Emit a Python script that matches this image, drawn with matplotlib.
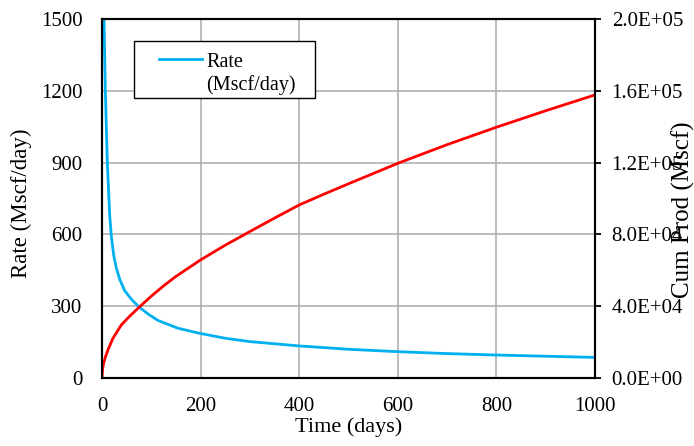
import numpy as np
import matplotlib
matplotlib.use('Agg')
import matplotlib.pyplot as plt
from matplotlib.patches import Rectangle
from matplotlib.ticker import FuncFormatter

plt.rcParams['font.family'] = ['Liberation Serif', 'DejaVu Serif']

# rate data
t_rate = [1, 2, 3, 4.5, 6.8, 10.8, 15.6, 19, 24, 29, 36, 46, 60, 76, 95, 114, 154, 195, 250, 300,
          400, 500, 600, 700, 800, 900, 1000]
rate = [3000, 2000, 1700, 1450, 1200, 900, 680, 590, 510, 460, 412, 365, 328, 295, 265, 240, 208, 188,
        166, 152, 134, 120, 110, 102, 96, 91, 86]

# cumulative production
t_cum = [0, 1, 3, 6, 12, 22, 39, 56, 76, 100, 127, 150, 200, 250, 300, 350, 400, 450, 500,
         600, 700, 800, 900, 1000]
cum = [0, 4500, 7800, 11000, 15600, 22000, 29500, 34400, 39600, 45600, 51800, 56600, 65800,
       74000, 81600, 89100, 96400, 102400, 108200, 119600, 130000, 139700, 148900, 157700]

x_ticks = [0, 200, 400, 600, 800, 1000]
rate_ticks = [0, 300, 600, 900, 1200, 1500]
cum_ticks = [0, 40000, 80000, 120000, 160000, 200000]

fig = plt.figure(figsize=(6.94, 4.46), dpi=100)
ax = fig.add_axes([102/694, 68/446, 493/694, 359/446])
ax2 = ax.twinx()

line_rate, = ax.plot(t_rate, rate, color='#00b0f0', lw=2.0, label='Rate\n(Mscf/day)')
ax2.plot(t_cum, cum, color='#ff0000', lw=2.0)

ax.set_xlim(0, 1000)
ax.set_ylim(0, 1500)
ax2.set_ylim(0, 200000)
ax.set_xticks(x_ticks)
ax.set_yticks(rate_ticks)
ax2.set_yticks(cum_ticks)
ax2.yaxis.set_major_formatter(FuncFormatter(lambda v, p: f"{v:.1E}"))

ax.grid(True, color='#ababab', lw=1.1)
ax.set_axisbelow(True)

fs = 15
ax.tick_params(axis='both', length=0, pad=14, labelsize=fs)
ax2.tick_params(axis='y', length=4, width=1.3, direction='out', pad=8, labelsize=fs)

for a in (ax, ax2):
    for s in a.spines.values():
        s.set_linewidth(1.5)
        s.set_color('black')

ax.set_xlabel('Time (days)', fontsize=16, va='center')
ax.set_ylabel('Rate (Mscf/day)', fontsize=16.5, va='center')
ax2.set_ylabel('Cum Prod (Mscf)', fontsize=18, va='center')
ax.xaxis.set_label_coords(0.5, -0.137)
ax.yaxis.set_label_coords(-0.163, 0.4875)
ax2.yaxis.set_label_coords(1.18, 0.469)

# legend frame drawn as a box, legend itself without frame
box = Rectangle((0.0649, 0.780), 0.3671, 0.1587, transform=ax.transAxes,
                facecolor='white', edgecolor='black', lw=1.0, zorder=4)
ax.add_patch(box)
leg = ax.legend(handles=[line_rate], loc='upper left', bbox_to_anchor=(0.065, 0.938),
                fontsize=14.5, frameon=False, handlelength=2.78,
                borderpad=0.6, handletextpad=0.2, borderaxespad=0)
hl = leg.get_lines()[0]
xd = np.asarray(hl.get_xdata(), dtype=float)
yd = np.asarray(hl.get_ydata(), dtype=float)
hl.set_xdata(np.linspace(xd[0] + 9.4, xd[-1], len(xd)))
hl.set_ydata(yd + 11.0)

fig.savefig('out.png', dpi=100)
